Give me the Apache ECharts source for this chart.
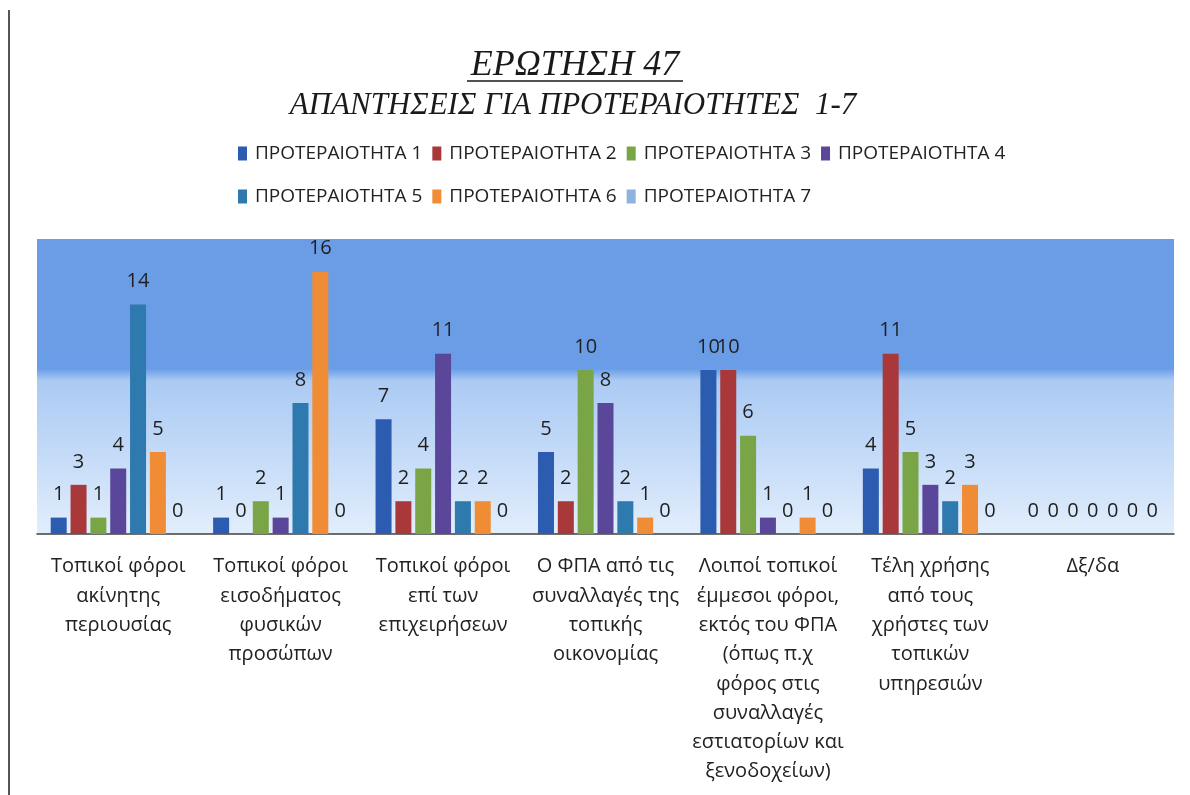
<!DOCTYPE html>
<html>
<head>
<meta charset="utf-8">
<script src="https://cdn.jsdelivr.net/npm/echarts@6/dist/echarts.min.js"></script>
<style>
  html, body { margin: 0; padding: 0; background: #ffffff; }
  #chart { width: 1190px; height: 795px; }
</style>
</head>
<body>
<div id="chart"></div>
<script>
// Categories (x axis), one label per group of bars
const categories = [
  "Τοπικοί φόροι\nακίνητης\nπεριουσίας",
  "Τοπικοί φόροι\nεισοδήματος\nφυσικών\nπροσώπων",
  "Τοπικοί φόροι\nεπί των\nεπιχειρήσεων",
  "Ο ΦΠΑ από τις\nσυναλλαγές της\nτοπικής\nοικονομίας",
  "Λοιποί τοπικοί\nέμμεσοι φόροι,\nεκτός του ΦΠΑ\n(όπως π.χ\nφόρος στις\nσυναλλαγές\nεστιατορίων και\nξενοδοχείων)",
  "Τέλη χρήσης\nαπό τους\nχρήστες των\nτοπικών\nυπηρεσιών",
  "Δξ/δα"
];

// Series names
const seriesNames = [
  "ΠΡΟΤΕΡΑΙΟΤΗΤΑ 1", "ΠΡΟΤΕΡΑΙΟΤΗΤΑ 2", "ΠΡΟΤΕΡΑΙΟΤΗΤΑ 3", "ΠΡΟΤΕΡΑΙΟΤΗΤΑ 4",
  "ΠΡΟΤΕΡΑΙΟΤΗΤΑ 5", "ΠΡΟΤΕΡΑΙΟΤΗΤΑ 6", "ΠΡΟΤΕΡΑΙΟΤΗΤΑ 7"
];

// Answer counts per priority, one value per category
const priority1 = [1, 1, 7, 5, 10, 4, 0];
const priority2 = [3, 0, 2, 2, 10, 11, 0];
const priority3 = [1, 2, 4, 10, 6, 5, 0];
const priority4 = [4, 1, 11, 8, 1, 3, 0];
const priority5 = [14, 8, 2, 2, 0, 2, 0];
const priority6 = [5, 16, 2, 1, 1, 3, 0];
const priority7 = [0, 0, 0, 0, 0, 0, 0];

const seriesData = [priority1, priority2, priority3, priority4, priority5, priority6, priority7];
const seriesColors = ["#2B5CB0", "#A8383A", "#79A547", "#5A479A", "#2E79AE", "#F08C36", "#8FB2E0"];

const chart = echarts.init(document.getElementById('chart'), null, { renderer: 'canvas' });

const sansFont = "'Open Sans', 'Noto Sans', sans-serif";
const serifFont = "'Liberation Serif', 'DejaVu Serif', serif";

const series = seriesData.map((data, i) => ({
  name: seriesNames[i],
  type: 'bar',
  data: data,
  barWidth: 16,
  barGap: '24%',
  itemStyle: { color: seriesColors[i] },
  label: {
    show: true,
    position: 'top',
    distance: 13,
    color: '#1f1f1f',
    fontFamily: sansFont,
    fontSize: 20
  }
}));

const legendText = { fontFamily: sansFont, fontSize: 19, color: '#222', padding: [0, 0, 0, 3] };

const option = {
  backgroundColor: '#ffffff',
  animation: false,
  graphic: [
    // page margin rule on the left
    { type: 'line', shape: { x1: 9, y1: 10, x2: 9, y2: 795 }, style: { stroke: '#555', lineWidth: 2 } },
    // chart title
    { type: 'text', x: 575, y: 66,
      style: { text: 'ΕΡΩΤΗΣΗ 47', fill: '#1a1a1a', font: 'italic 36px ' + serifFont,
               textAlign: 'center', textVerticalAlign: 'middle' } },
    // title underline
    { type: 'line', shape: { x1: 467, y1: 81, x2: 683, y2: 81 }, style: { stroke: '#1a1a1a', lineWidth: 1.5 } },
    // subtitle
    { type: 'text', x: 573, y: 106,
      style: { text: 'ΑΠΑΝΤΗΣΕΙΣ ΓΙΑ ΠΡΟΤΕΡΑΙΟΤΗΤΕΣ  1-7', fill: '#1a1a1a', font: 'italic 31px ' + serifFont,
               textAlign: 'center', textVerticalAlign: 'middle' } }
  ],
  legend: [
    {
      data: seriesNames.slice(0, 4),
      left: 238, top: 144, padding: 0,
      icon: 'rect', itemWidth: 9, itemHeight: 14, itemGap: 10,
      textStyle: legendText
    },
    {
      data: seriesNames.slice(4),
      left: 238, top: 187, padding: 0,
      icon: 'rect', itemWidth: 9, itemHeight: 14, itemGap: 10,
      textStyle: legendText
    }
  ],
  grid: {
    left: 37, right: 16, top: 239, bottom: 261,
    show: true,
    borderWidth: 0,
    backgroundColor: new echarts.graphic.LinearGradient(0, 0, 0, 1, [
      { offset: 0, color: '#6A9DE6' },
      { offset: 0.44, color: '#6A9DE7' },
      { offset: 0.48, color: '#ABCAF3' },
      { offset: 0.75, color: '#C6DCF8' },
      { offset: 1, color: '#E2EEFC' }
    ])
  },
  xAxis: {
    type: 'category',
    data: categories,
    axisLine: { show: true, lineStyle: { color: '#404040', width: 1.5 } },
    axisTick: { show: false },
    axisLabel: {
      interval: 0,
      margin: 18,
      fontFamily: sansFont,
      fontSize: 20,
      lineHeight: 29.3,
      color: '#222',
      align: 'center',
      verticalAlign: 'top'
    }
  },
  yAxis: {
    type: 'value',
    min: 0, max: 18,
    show: false,
    splitLine: { show: false }
  },
  series: series
};

chart.setOption(option);
</script>
</body>
</html>
